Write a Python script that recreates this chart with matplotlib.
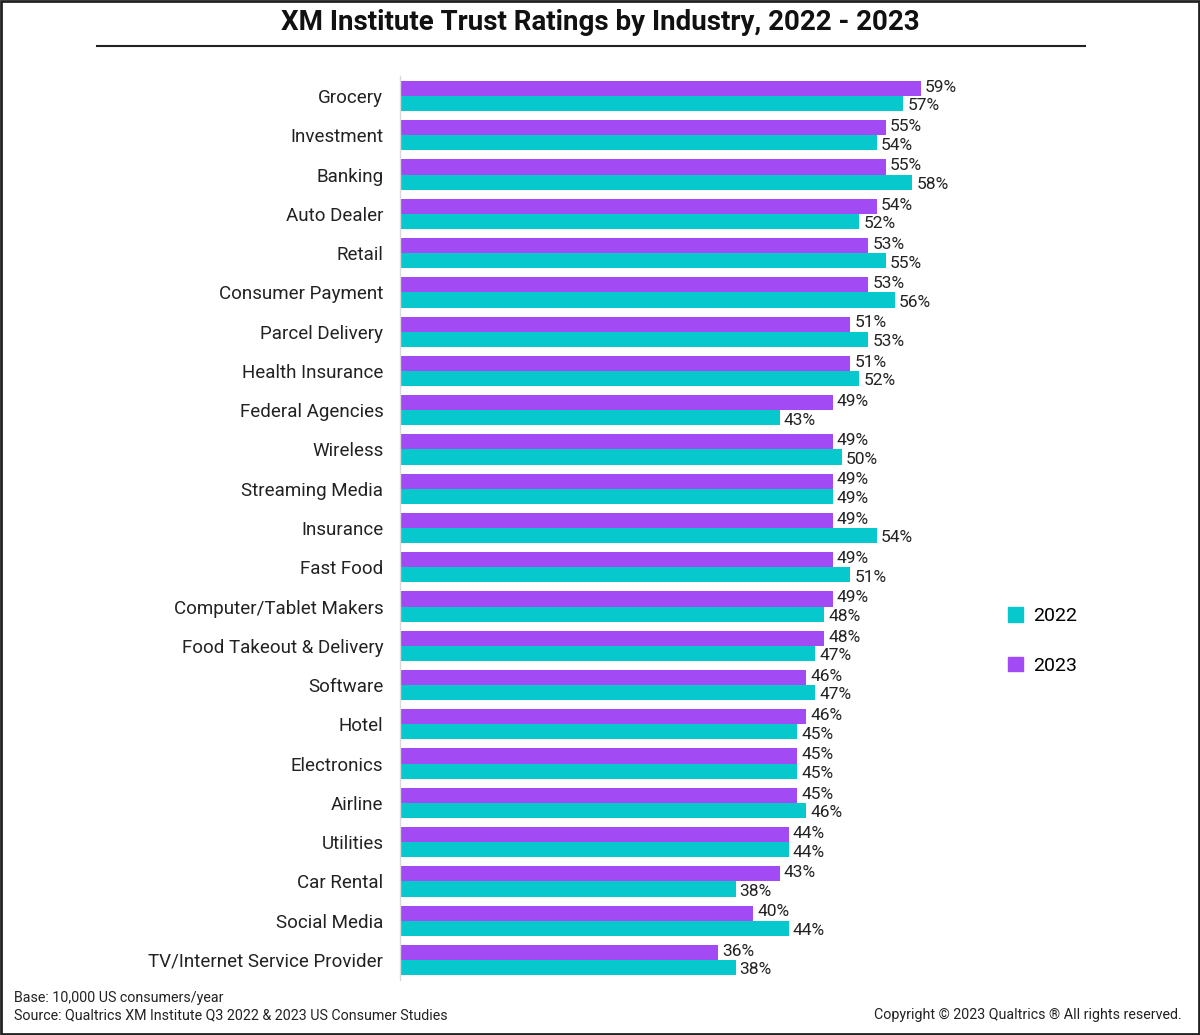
import matplotlib
matplotlib.use("Agg")
import matplotlib.pyplot as plt
from matplotlib.patches import Rectangle
from matplotlib.lines import Line2D
import numpy as np

categories = ["Grocery", "Investment", "Banking", "Auto Dealer", "Retail", "Consumer Payment",
              "Parcel Delivery", "Health Insurance", "Federal Agencies", "Wireless", "Streaming Media",
              "Insurance", "Fast Food", "Computer/Tablet Makers", "Food Takeout & Delivery", "Software",
              "Hotel", "Electronics", "Airline", "Utilities", "Car Rental", "Social Media",
              "TV/Internet Service Provider"]
values_2023 = [59, 55, 55, 54, 53, 53, 51, 51, 49, 49, 49, 49, 49, 49, 48, 46, 46, 45, 45, 44, 43, 40, 36]
values_2022 = [57, 54, 58, 52, 55, 56, 53, 52, 43, 50, 49, 54, 51, 48, 47, 47, 45, 45, 46, 44, 38, 44, 38]

c2023 = "#A24BF4"
c2022 = "#07C8CC"

plt.rcParams['font.family'] = ['Roboto', 'DejaVu Sans']

fig = plt.figure(figsize=(12, 10.35), dpi=100)
ax = fig.add_axes([400/1200, 1-979.6/1035, 574/1200, (979.6-76.4)/1035])

y = np.arange(len(categories))
h = 0.385
ax.barh(y - h/2, values_2023, height=h, color=c2023, label="2023")
ax.barh(y + h/2, values_2022, height=h, color=c2022, label="2022")

for yi, v in zip(y, values_2023):
    ax.annotate(f"{v}%", (v, yi - h/2 - 0.03), xytext=(3, 0), textcoords="offset points",
                va="center", ha="left", fontsize=12.5, color="#222222")
for yi, v in zip(y, values_2022):
    ax.annotate(f"{v}%", (v, yi + h/2 + 0.06), xytext=(3, 0), textcoords="offset points",
                va="center", ha="left", fontsize=12.5, color="#222222")

ax.set_xlim(0, 65)
ax.set_ylim(len(categories) - 0.5, -0.5)
ax.set_yticks(y)
ax.set_yticklabels(categories, fontsize=13.5, color="#222222")
ax.tick_params(axis="y", length=0, pad=12)
ax.set_xticks([])
for s in ["top", "right", "bottom"]:
    ax.spines[s].set_visible(False)
ax.spines["left"].set_color("#d9d9d9")
ax.spines["left"].set_linewidth(1)

# legend
handles = [Rectangle((0, 0), 1, 1, color=c2022), Rectangle((0, 0), 1, 1, color=c2023)]
fig.legend(handles, ["2022", "2023"], loc="center left", bbox_to_anchor=(990/1200, 1-641/1035),
           frameon=False, fontsize=14, handlelength=0.8, handleheight=0.8, labelspacing=1.6,
           handletextpad=0.5)

# title
fig.text(0.5, 1-22/1035, "XM Institute Trust Ratings by Industry, 2022 - 2023",
         ha="center", va="center", fontsize=20, fontweight="bold", color="#111111")
fig.add_artist(Line2D([97/1200, 1085/1200], [1-46/1035, 1-46/1035], color="#222222", lw=1.5))

# footer
fig.text(14/1200, 1-998/1035, "Base: 10,000 US consumers/year", fontsize=10.3, va="center", color="#222222")
fig.text(14/1200, 1-1015/1035, "Source: Qualtrics XM Institute Q3 2022 & 2023 US Consumer Studies",
         fontsize=10.3, va="center", color="#222222")
fig.text(1182/1200, 1-1015/1035, "Copyright \u00a9 2023 Qualtrics \u00ae All rights reserved.",
         fontsize=10.3, va="center", ha="right", color="#222222")

# border
fig.add_artist(Rectangle((0.001, 0.001), 0.998, 0.998, transform=fig.transFigure, fill=False,
                         edgecolor="#222222", lw=2))

fig.savefig("out.png", dpi=100)
